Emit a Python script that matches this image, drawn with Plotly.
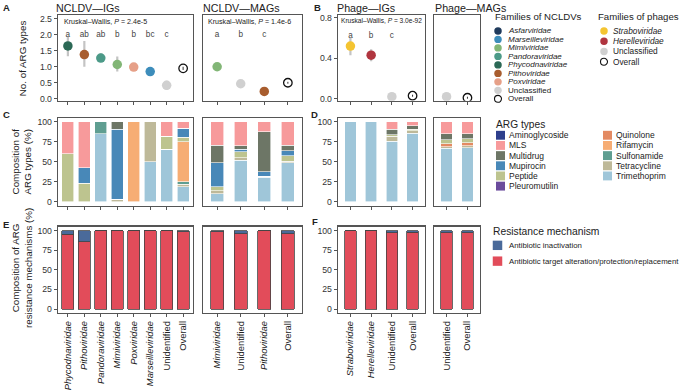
import plotly.graph_objects as go

FONT = "Arial, Liberation Sans, Helvetica, sans-serif"
W, H = 685, 391

# ---------------- DATA ----------------
# Panel A: NCLDV - IGs (mean, lower, upper of No. of ARG types)
a1_cats = ["Phycodnaviridae", "Pithoviridae", "Pandoraviridae", "Mimiviridae",
           "Poxviridae", "Marseilleviridae", "Unidentified", "Overall"]
a1_mean = [1.65, 1.38, 1.27, 1.07, 0.99, 0.85, 0.42, 0.95]
a1_lo = [1.33, 1.00, 1.15, 0.85, 0.99, 0.78, 0.28, 0.90]
a1_hi = [1.95, 1.80, 1.42, 1.32, 0.99, 0.93, 0.56, 1.00]
a1_letters = ["a", "ab", "ab", "b", "b", "bc", "c", ""]
a1_kw = "Kruskal–Wallis, <i>P</i> = 2.4e-5"

# Panel A: NCLDV - MAGs
a2_cats = ["Mimiviridae", "Unidentified", "Pithoviridae", "Overall"]
a2_mean = [1.00, 0.47, 0.23, 0.50]
a2_lo = [0.98, 0.45, 0.21, 0.47]
a2_hi = [1.02, 0.49, 0.25, 0.53]
a2_letters = ["a", "b", "c", ""]
a2_kw = "Kruskal–Wallis, <i>P</i> = 1.4e-6"

# Panel B: Phage - IGs
b1_cats = ["Straboviridae", "Herelleviridae", "Unidentified", "Overall"]
b1_mean = [0.52, 0.43, 0.02, 0.03]
b1_lo = [0.43, 0.37, 0.015, 0.02]
b1_hi = [0.60, 0.49, 0.025, 0.04]
b1_letters = ["a", "b", "c", ""]
b1_kw = "Kruskal–Wallis, <i>P</i> = 3.0e-92"

# Panel B: Phage - MAGs
b2_cats = ["Unidentified", "Overall"]
b2_mean = [0.02, 0.01]
b2_lo = [0.015, 0.0]
b2_hi = [0.025, 0.02]

arg_types = ["Aminoglycoside", "MLS", "Multidrug", "Mupirocin", "Peptide", "Pleuromutilin",
             "Quinolone", "Rifamycin", "Sulfonamide", "Tetracycline", "Trimethoprim"]

# Panel C: composition of ARG types (%)
c1_comp = {
    "Trimethoprim": [0, 0, 85, 0, 0, 50, 66, 19],
    "Tetracycline": [0, 0, 0, 3, 0, 50, 0, 3],
    "Sulfonamide":  [0, 0, 15, 0, 0, 0, 0, 3],
    "Rifamycin":    [0, 0, 0, 0, 100, 0, 0, 50],
    "Peptide":      [60, 23, 0, 0, 0, 0, 16, 6],
    "Mupirocin":    [0, 20, 0, 88, 0, 0, 0, 11],
    "Multidrug":    [0, 0, 0, 9, 0, 0, 0, 0],
    "MLS":          [40, 57, 0, 0, 0, 0, 18, 8],
}
c2_comp = {
    "Trimethoprim": [10, 52, 31, 49],
    "Tetracycline": [4, 3, 1, 2],
    "Peptide":      [5, 8, 0, 7],
    "Mupirocin":    [30, 3, 6, 6],
    "Multidrug":    [22, 4, 50, 7],
    "MLS":          [29, 30, 12, 29],
}
# Panel D
d1_comp = {
    "Trimethoprim": [100, 100, 76, 86],
    "Tetracycline": [0, 0, 6, 3],
    "Peptide":      [0, 0, 2, 2],
    "Multidrug":    [0, 0, 7, 4],
    "MLS":          [0, 0, 9, 5],
}
d2_comp = {
    "Trimethoprim": [67, 68],
    "Tetracycline": [2, 2],
    "Quinolone":    [4, 4],
    "Peptide":      [5, 5],
    "Multidrug":    [7, 6],
    "MLS":          [15, 15],
}

mech_names = ["Antibiotic inactivation", "Antibiotic target alteration/protection/replacement"]
# Panel E / F: resistance mechanisms (%)
e1_inact = [5, 14, 0, 0, 0, 0, 0, 1.5]
e1_target = [95, 86, 100, 100, 100, 100, 100, 98.5]
e2_inact = [1.5, 4, 0, 4]
e2_target = [98.5, 96, 100, 96]
f1_inact = [0, 0, 3, 2]
f1_target = [100, 100, 97, 98]
f2_inact = [3, 3]
f2_target = [97, 97]

ncldv_fams = ["Asfarviridae", "Marseilleviridae", "Mimiviridae", "Pandoraviridae",
              "Phycodnaviridae", "Pithoviridae", "Poxviridae", "Unclassified", "Overall"]
phage_fams = ["Straboviridae", "Herelleviridae", "Unclassified", "Overall"]

# ---------------- STYLES ----------------
fam_color = {
    "Asfarviridae": "#1f3a5c", "Marseilleviridae": "#3d8dbb", "Mimiviridae": "#82b676",
    "Pandoraviridae": "#4c9a88", "Phycodnaviridae": "#2b6855", "Pithoviridae": "#a85d2e",
    "Poxviridae": "#e6a088", "Unclassified": "#d0d0d0", "Unidentified": "#d0d0d0",
    "Straboviridae": "#f4c431", "Herelleviridae": "#b0353f",
}
arg_color = {
    "Aminoglycoside": "#2e3f8c", "MLS": "#f79a9b", "Multidrug": "#6d7666",
    "Mupirocin": "#4888b8", "Peptide": "#bdc48f", "Pleuromutilin": "#6a4b9c",
    "Quinolone": "#e38a62", "Rifamycin": "#f6ad74", "Sulfonamide": "#5f9e91",
    "Tetracycline": "#beb999", "Trimethoprim": "#9fc6d9",
}
mech_color = {mech_names[0]: "#4a6a9a", mech_names[1]: "#e24c5a"}
stack_order = ["Trimethoprim", "Tetracycline", "Sulfonamide", "Rifamycin", "Quinolone",
               "Pleuromutilin", "Peptide", "Mupirocin", "Multidrug", "MLS", "Aminoglycoside"]

ITALIC = set(ncldv_fams[:7] + phage_fams[:2])
LINEC = "#555555"
TXT = "#222222"

COLS = [(58, 193), (203, 302), (338, 425), (434, 480)]
ROWS = [(13, 100), (117.5, 206.5), (227.5, 315)]


def px(x):
    return x / W


def py(y):
    return 1 - y / H


fig = go.Figure()
layout = {}

panel_defs = [
    ("A1", 0, 0, a1_cats, [-0.06, 2.62], [0, 0.5, 1.0, 1.5, 2.0, 2.5]),
    ("A2", 1, 0, a2_cats, [-0.06, 2.62], None),
    ("B1", 2, 0, b1_cats, [-0.0195, 0.829], [0, 0.4, 0.8]),
    ("B2", 3, 0, b2_cats, [-0.0195, 0.829], None),
    ("C1", 0, 1, a1_cats, [-5, 105], [0, 25, 50, 75, 100]),
    ("C2", 1, 1, a2_cats, [-5, 105], None),
    ("D1", 2, 1, b1_cats, [-5, 105], [0, 25, 50, 75, 100]),
    ("D2", 3, 1, b2_cats, [-5, 105], None),
    ("E1", 0, 2, a1_cats, [-5, 105], [0, 25, 50, 75, 100]),
    ("E2", 1, 2, a2_cats, [-5, 105], None),
    ("F1", 2, 2, b1_cats, [-5, 105], [0, 25, 50, 75, 100]),
    ("F2", 3, 2, b2_cats, [-5, 105], None),
]
ax = {}
for i, (key, c, r, cats, yr, yt) in enumerate(panel_defs, start=1):
    sfx = "" if i == 1 else str(i)
    ax[key] = ("x" + sfx, "y" + sfx)
    n = len(cats)
    labels = [("<i>%s</i>" % t) if t in ITALIC else t for t in cats]
    layout["xaxis" + sfx] = dict(
        domain=[px(COLS[c][0]), px(COLS[c][1])], anchor="y" + sfx,
        type="category", categoryorder="array", categoryarray=cats,
        range=[-0.6, n - 0.4], showline=True, mirror=True, linecolor=LINEC, linewidth=1.3,
        ticks="outside", ticklen=3, tickcolor=LINEC, tickwidth=1,
        showgrid=False, zeroline=False,
        tickvals=cats, ticktext=labels, showticklabels=(r == 2), tickangle=-90,
        tickfont=dict(size=9.4, color=TXT, family=FONT),
    )
    ydict = dict(
        domain=[py(ROWS[r][1]), py(ROWS[r][0])], anchor="x" + sfx,
        range=yr, showline=True, mirror=True, linecolor=LINEC, linewidth=1.3,
        showgrid=False, zeroline=False,
        tickfont=dict(size=8.7, color="#333333", family=FONT),
    )
    if yt is not None:
        ydict.update(ticks="outside", ticklen=3, tickcolor=LINEC, tickvals=yt,
                     ticktext=[("%.1f" % v) if r == 0 else str(v) for v in yt])
    else:
        ydict.update(showticklabels=False, ticks="")
    layout["yaxis" + sfx] = ydict


def add_points(key, cats, mean, lo, hi, letters=None, letter_y=None):
    xa, ya = ax[key]
    body = [k for k, cat in enumerate(cats) if cat != "Overall"]
    ov = [k for k, cat in enumerate(cats) if cat == "Overall"]
    fig.add_trace(go.Scatter(
        x=[cats[k] for k in body], y=[mean[k] for k in body], mode="markers",
        xaxis=xa, yaxis=ya, showlegend=False,
        marker=dict(size=9.5, color=[fam_color[cats[k]] for k in body], line=dict(width=0)),
        error_y=dict(type="data", symmetric=False,
                     array=[hi[k] - mean[k] for k in body],
                     arrayminus=[mean[k] - lo[k] for k in body],
                     color="#c4c4c4", thickness=2.2, width=0),
    ))
    fig.add_trace(go.Scatter(
        x=[cats[k] for k in ov], y=[mean[k] for k in ov], mode="markers",
        xaxis=xa, yaxis=ya, showlegend=False,
        marker=dict(size=8.5, symbol="circle-open", color="#111111", line=dict(width=1.3)),
        error_y=dict(type="data", symmetric=False,
                     array=[hi[k] - mean[k] for k in ov],
                     arrayminus=[mean[k] - lo[k] for k in ov],
                     color="#333333", thickness=1, width=0),
    ))
    if letters:
        fig.add_trace(go.Scatter(
            x=cats, y=[letter_y] * len(cats), mode="text", text=letters,
            xaxis=xa, yaxis=ya, showlegend=False,
            textfont=dict(size=8.2, color="#444444", family=FONT),
        ))


add_points("A1", a1_cats, a1_mean, a1_lo, a1_hi, a1_letters, 2.0)
add_points("A2", a2_cats, a2_mean, a2_lo, a2_hi, a2_letters, 2.0)
add_points("B1", b1_cats, b1_mean, b1_lo, b1_hi, b1_letters, 0.62)
add_points("B2", b2_cats, b2_mean, b2_lo, b2_hi)


def add_stack(key, cats, comp, width):
    xa, ya = ax[key]
    for t in stack_order:
        if t not in comp:
            continue
        fig.add_trace(go.Bar(
            x=cats, y=comp[t], name=t, xaxis=xa, yaxis=ya, showlegend=False,
            width=width, marker=dict(color=arg_color[t], line=dict(color="#ffffff", width=0.6)),
        ))


add_stack("C1", a1_cats, c1_comp, 0.74)
add_stack("C2", a2_cats, c2_comp, 0.56)
add_stack("D1", b1_cats, d1_comp, 0.56)
add_stack("D2", b2_cats, d2_comp, 0.56)


def add_mech(key, cats, inact, target, width):
    xa, ya = ax[key]
    for name, vals in ((mech_names[1], target), (mech_names[0], inact)):
        fig.add_trace(go.Bar(
            x=cats, y=vals, name=name, xaxis=xa, yaxis=ya, showlegend=False,
            width=width, marker=dict(color=mech_color[name], line=dict(color="#444444", width=0.8)),
        ))


add_mech("E1", a1_cats, e1_inact, e1_target, 0.74)
add_mech("E2", a2_cats, e2_inact, e2_target, 0.56)
add_mech("F1", b1_cats, f1_inact, f1_target, 0.56)
add_mech("F2", b2_cats, f2_inact, f2_target, 0.56)

annotations = []
shapes = []


def text(x, y, s, size=10, bold=False, xanchor="left", yanchor="middle", angle=0, color=TXT):
    annotations.append(dict(
        x=px(x), y=py(y), xref="paper", yref="paper", text=("<b>%s</b>" % s) if bold else s,
        showarrow=False, xanchor=xanchor, yanchor=yanchor, textangle=angle, borderpad=0,
        font=dict(size=size, color=color, family=FONT),
    ))


# panel letters
for s, x, y in (("A", 2, 6), ("B", 313, 6), ("C", 2, 114), ("D", 310, 114), ("E", 2, 225), ("F", 311, 222)):
    text(x, y, s, size=9.5, bold=True)
# titles
for s, x in (("NCLDV—IGs", 55), ("NCLDV—MAGs", 202), ("Phage—IGs", 336), ("Phage—MAGs", 434)):
    text(x, 6.5, s, size=10.7)
# KW texts
text(63, 20, a1_kw, size=7.1)
text(207, 20, a2_kw, size=7.1)
text(340, 19, b1_kw, size=6.6)
# y titles
text(22, 57, "No. of ARG types", size=9.8, xanchor="center", angle=-90)
text(21.5, 162, "Composition of<br>ARG types (%)", size=9.8, xanchor="center", angle=-90)
text(21.5, 270, "Composition of ARG<br>resistance mechanisms (%)", size=9.8, xanchor="center", angle=-90)


def circle(cx, cy, d, fill, line="rgba(0,0,0,0)", lw=0):
    shapes.append(dict(type="circle", xref="paper", yref="paper",
                       x0=px(cx - d / 2), x1=px(cx + d / 2), y0=py(cy + d / 2), y1=py(cy - d / 2),
                       fillcolor=fill, line=dict(color=line, width=lw)))


def square(cx, cy, d, fill):
    shapes.append(dict(type="rect", xref="paper", yref="paper",
                       x0=px(cx - d / 2), x1=px(cx + d / 2), y0=py(cy + d / 2), y1=py(cy - d / 2),
                       fillcolor=fill, line=dict(width=0)))


# Legend: Families of NCLDVs
text(494, 15, "Families of NCLDVs", size=9.6)
for k, f in enumerate(ncldv_fams):
    yy = 29.3 + k * 8.6
    if f == "Overall":
        circle(498, yy, 7, "rgba(0,0,0,0)", "#111111", 1.1)
    else:
        circle(498, yy, 7.5, fam_color[f])
    text(507, yy, ("<i>%s</i>" % f) if f in ITALIC else f, size=8)

# Legend: Families of phages
text(597, 15, "Families of phages", size=9.6)
for k, f in enumerate(phage_fams):
    yy = 29.3 + k * 10.4
    if f == "Overall":
        circle(604, yy, 7, "rgba(0,0,0,0)", "#111111", 1.1)
    else:
        circle(604, yy, 7.5, fam_color[f])
    text(612, yy, ("<i>%s</i>" % f) if f in ITALIC else f, size=8.3)

# Legend: ARG types
text(495, 124, "ARG types", size=10.2)
for k, t in enumerate(arg_types):
    col, row = divmod(k, 6)
    xx = 500.5 if col == 0 else 607.5
    yy = 135 + row * 10.3
    square(xx, yy, 9, arg_color[t])
    text(xx + 7.5, yy, t, size=8.5)

# Legend: Resistance mechanism
text(492, 232, "Resistance mechanism", size=10.3)
for k, m in enumerate(mech_names):
    yy = 246.5 + k * 16
    square(497.5, yy, 9.5, mech_color[m])
    text(508, yy, m, size=7.8)

layout.update(
    width=W, height=H, margin=dict(l=0, r=0, t=0, b=0),
    paper_bgcolor="white", plot_bgcolor="white",
    barmode="stack", bargap=0.2, showlegend=False, hovermode=False,
    font=dict(family=FONT, color=TXT),
    annotations=annotations, shapes=shapes,
)
fig.update_layout(**layout)
fig.write_html("out.html",
               config={"staticPlot": True, "displayModeBar": False},
               post_script="document.body.style.margin='0px';document.body.style.padding='0px';"
                           "document.body.style.overflow='hidden';")
